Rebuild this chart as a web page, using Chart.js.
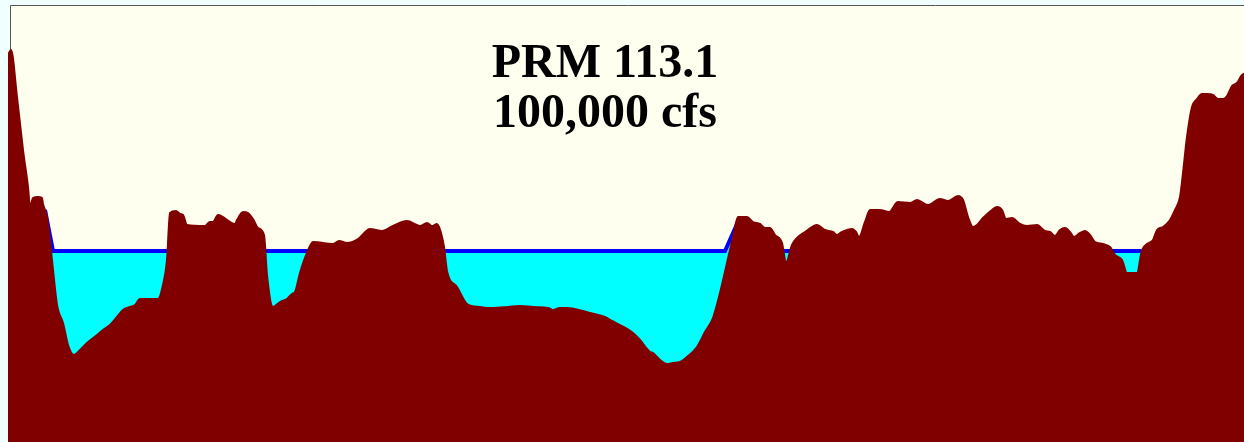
<!DOCTYPE html>
<html>
<head>
<meta charset="utf-8">
<title>PRM 113.1</title>
<script src="https://cdn.jsdelivr.net/npm/chart.js@4.4.1/dist/chart.umd.min.js"></script>
<style>
  html, body { margin: 0; padding: 0; background: #f0ffff; }
  #wrap { width: 1244px; height: 442px; }
</style>
</head>
<body>
<div id="wrap"><canvas id="section" width="1244" height="442"></canvas></div>
<script>
// ground profile across the river (station, elevation)
var station = [
  0, 3, 9, 15, 20, 22, 25, 30, 34, 35,
  39, 43, 49, 51, 55, 60, 66, 72, 79, 89,
  95, 102, 109, 115, 122, 127, 132, 150, 155, 159,
  162, 168, 172, 175, 179, 197, 202, 205, 210, 227,
  229, 235, 240, 245, 250, 256, 259, 265, 272, 279,
  284, 287, 292, 299, 305, 325, 331, 339, 350, 362,
  374, 385, 399, 409, 412, 419, 424, 429, 431, 434,
  436, 439, 449, 459, 472, 485, 500, 512, 525, 540,
  545, 552, 559, 575, 582, 597, 604, 612, 625, 632,
  642, 645, 652, 659, 665, 672, 679, 689, 697, 705,
  712, 719, 725, 730, 739, 745, 752, 757, 762, 767,
  774, 778, 784, 789, 797, 809, 817, 825, 829, 834,
  844, 848, 851, 857, 862, 872, 881, 890, 902, 909,
  920, 932, 940, 950, 955, 960, 965, 969, 975, 984,
  989, 994, 998, 1004, 1012, 1019, 1029, 1037, 1042, 1047,
  1052, 1057, 1062, 1066, 1072, 1077, 1082, 1087, 1095, 1102,
  1107, 1114, 1119, 1129, 1134, 1139, 1145, 1149, 1155, 1162,
  1167, 1172, 1175, 1179, 1184, 1189, 1194, 1199, 1205, 1210,
  1215, 1219, 1224, 1229, 1234, 1238
];
var elevation = [
  387, 392, 345, 292, 255, 235, 244, 245, 244, 238,
  225, 191, 137, 129, 119, 97, 87, 92, 99, 107,
  112, 117, 125, 132, 135, 137, 143, 143, 157, 182,
  229, 231, 228, 227, 217, 216, 220, 220, 227, 218,
  222, 230, 229, 223, 214, 207, 167, 135, 140, 143,
  148, 150, 169, 189, 200, 198, 201, 199, 203, 213,
  211, 216, 221, 217, 216, 219, 216, 218, 215, 205,
  195, 171, 155, 138, 135, 134, 135, 136, 135, 134,
  132, 134, 134, 131, 129, 125, 121, 117, 109, 102,
  90, 89, 82, 78, 79, 80, 85, 95, 110, 124,
  149, 179, 205, 225, 225, 220, 218, 214, 214, 207,
  199, 179, 197, 204, 210, 217, 212, 210, 207, 210,
  213, 210, 205, 220, 232, 232, 230, 240, 239, 242,
  237, 243, 241, 246, 242, 225, 215, 217, 224, 232,
  235, 232, 223, 224, 218, 216, 217, 211, 210, 206,
  212, 214, 210, 205, 209, 211, 207, 200, 198, 195,
  187, 182, 169, 169, 192, 198, 202, 212, 215, 222,
  232, 245, 269, 305, 335, 343, 348, 348, 347, 343,
  343, 346, 356, 359, 367, 369
];

// water surface at 100,000 cfs
var waterStation = [37, 45, 717, 729, 731, 1133];
var waterElevation = [232, 191, 191, 218, 191, 191];

var titleLines = ['PRM 113.1', '100,000 cfs'];

function toPoints(xs, ys) {
  var pts = [];
  for (var i = 0; i < xs.length; i++) {
    pts.push({ x: xs[i], y: ys[i] });
  }
  return pts;
}

// plot background, frame and the two-line title
var sectionFrame = {
  id: 'sectionFrame',
  beforeDraw: function(chart) {
    var ctx = chart.ctx;
    var w = chart.width;
    var h = chart.height;
    ctx.save();
    ctx.fillStyle = '#fffff0';
    ctx.fillRect(11, 6, w - 11, h - 6);
    ctx.strokeStyle = '#555555';
    ctx.lineWidth = 1;
    ctx.beginPath();
    ctx.moveTo(10.5, h);
    ctx.lineTo(10.5, 5.5);
    ctx.lineTo(w, 5.5);
    ctx.stroke();
    ctx.restore();
  },
  afterDraw: function(chart) {
    var ctx = chart.ctx;
    ctx.save();
    ctx.fillStyle = '#000000';
    ctx.font = 'bold 48px "Liberation Serif", "Times New Roman", serif';
    ctx.textAlign = 'center';
    ctx.textBaseline = 'alphabetic';
    ctx.fillText(titleLines[0], 605, 77);
    ctx.fillText(titleLines[1], 605, 127);
    ctx.restore();
  }
};

new Chart(document.getElementById('section'), {
  type: 'line',
  data: {
    datasets: [
      {
        label: 'Ground',
        data: toPoints(station, elevation),
        borderColor: '#800000',
        backgroundColor: '#800000',
        borderWidth: 2,
        fill: 'start',
        pointRadius: 0,
        cubicInterpolationMode: 'monotone',
        order: 0
      },
      {
        label: 'Water surface',
        data: toPoints(waterStation, waterElevation),
        borderColor: '#0000ff',
        backgroundColor: '#00ffff',
        borderWidth: 4,
        fill: 'start',
        pointRadius: 0,
        tension: 0,
        order: 1
      }
    ]
  },
  options: {
    responsive: false,
    animation: false,
    devicePixelRatio: 1,
    layout: { padding: { left: 8, top: 5, right: 0, bottom: 0 } },
    scales: {
      x: { type: 'linear', min: 0, max: 1236, display: false },
      y: { min: 0, max: 437, display: false }
    },
    plugins: {
      legend: { display: false },
      tooltip: { enabled: false }
    }
  },
  plugins: [sectionFrame]
});
</script>
</body>
</html>
